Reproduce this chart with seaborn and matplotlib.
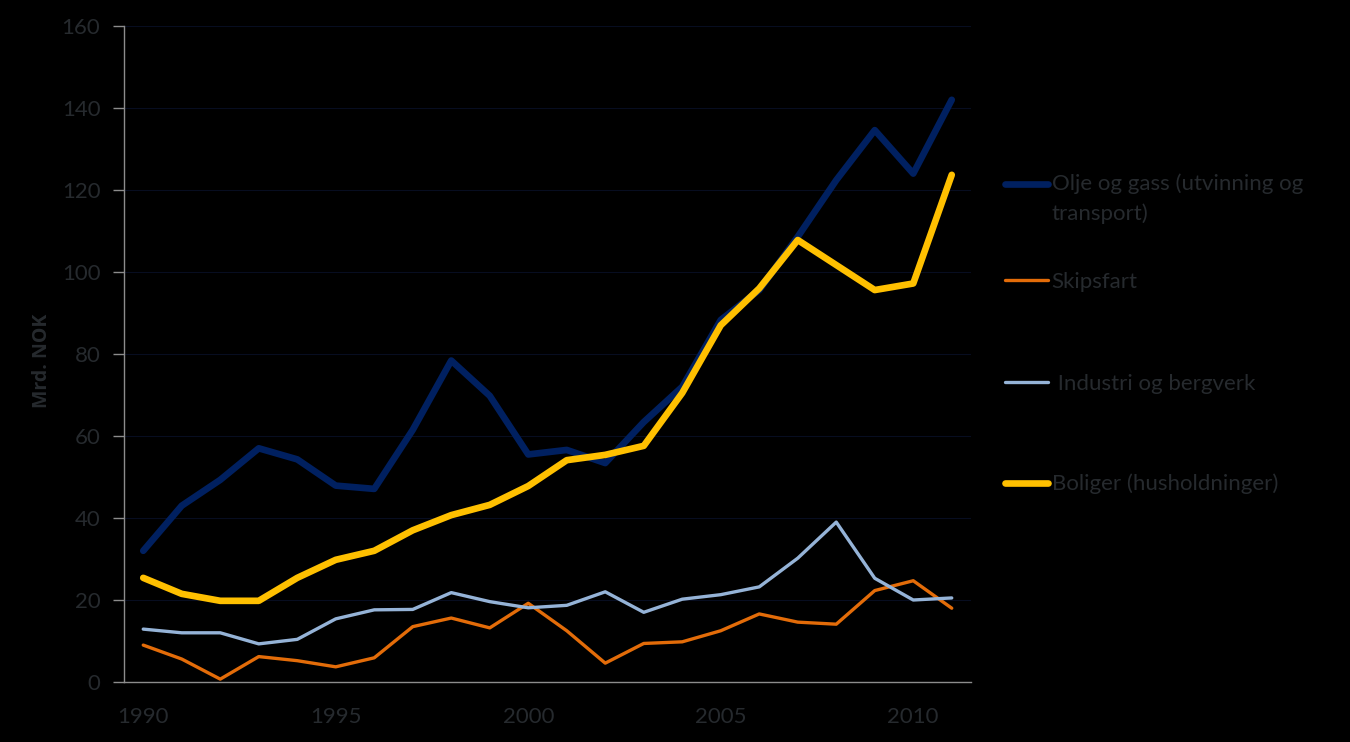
import matplotlib
matplotlib.use("Agg")
import matplotlib.pyplot as plt
import seaborn as sns
import pandas as pd
import numpy as np
from matplotlib.lines import Line2D
from matplotlib.legend_handler import HandlerLine2D

years = list(range(1990, 2012))
olje_gass = [32, 43, 49.3, 57, 54.3, 47.9, 47.1, 61.5, 78.4, 69.8, 55.5, 56.6,
             53.4, 63.4, 72, 88.3, 95.6, 108.6, 122.4, 134.6, 124, 142]
skipsfart = [9, 5.6, 0.7, 6.2, 5.2, 3.7, 5.9, 13.5, 15.6, 13.2, 19.2, 12.5,
             4.6, 9.4, 9.8, 12.5, 16.6, 14.6, 14.1, 22.3, 24.7, 18]
industri = [12.9, 12, 12, 9.3, 10.4, 15.4, 17.6, 17.7, 21.8, 19.6, 18.1, 18.7,
            22, 17, 20.2, 21.3, 23.2, 30.2, 39, 25.3, 20, 20.5]
boliger = [25.4, 21.5, 19.8, 19.8, 25.4, 29.8, 32, 37, 40.7, 43.2, 47.8, 54.1,
           55.4, 57.6, 70.5, 87, 96, 107.8, 101.7, 95.6, 97.2, 123.7]

series_names = ["Olje og gass (utvinning og\ntransport)", "Skipsfart",
                " Industri og bergverk", "Boliger (husholdninger)"]
series_values = [olje_gass, skipsfart, industri, boliger]
colors = ["#002060", "#E36C09", "#95B3D7", "#FFC000"]
widths = [4.8, 2.4, 2.4, 4.8]
yticks = [0, 20, 40, 60, 80, 100, 120, 140, 160]
xtick_labels = ["1990", "1995", "2000", "2005", "2010"]

sns.set_style("dark")
txt_color = "#262a2e"
plt.rcParams["font.family"] = ["Lato", "DejaVu Sans"]
FS = 16


class ShiftedLineHandler(HandlerLine2D):
    def __init__(self, shift=0.0, **kw):
        super().__init__(**kw)
        self.shift = shift

    def create_artists(self, legend, orig_handle, xdescent, ydescent, width,
                       height, fontsize, trans):
        arts = super().create_artists(legend, orig_handle, xdescent, ydescent,
                                      width, height, fontsize, trans)
        for a in arts:
            a.set_ydata(np.asarray(a.get_ydata(), dtype=float) + self.shift)
        return arts


fig = plt.figure(figsize=(13.5, 7.42), dpi=100, facecolor="black")
ax = fig.add_axes([124 / 1350, 1 - 682 / 742, (971 - 124) / 1350, (682 - 26) / 742])
ax.set_facecolor("black")

pos = list(range(len(years)))
for name, vals, c, w in zip(series_names, series_values, colors, widths):
    df = pd.DataFrame({"x": pos, "y": vals})
    sns.lineplot(data=df, x="x", y="y", ax=ax, color=c, linewidth=w,
                 solid_capstyle="round", solid_joinstyle="round", legend=False)

ax.set_xlim(-0.5, len(years) - 0.5)
ax.set_ylim(0, 160)
ax.set_yticks(yticks)
ax.set_yticklabels([str(v) for v in yticks])
ax.set_xticks([p - 0.5 for p in pos] + [len(years) - 0.5], minor=True)
ax.set_xticks([pos[years.index(int(l))] for l in xtick_labels])
ax.set_xticklabels(xtick_labels)
ax.tick_params(axis="x", which="major", length=0, pad=18, labelsize=FS, labelcolor=txt_color)
ax.tick_params(axis="x", which="minor", length=8, width=1, color="#8c8c8c", direction="out")
ax.tick_params(axis="y", length=8, width=1, color="#8c8c8c", direction="out", left=True,
               pad=9, labelsize=FS, labelcolor=txt_color)

ax.grid(False)
ax.yaxis.grid(True, color="#070d20", linewidth=0.8)
ax.xaxis.grid(False)
for s in ["top", "right"]:
    ax.spines[s].set_visible(False)
for s in ["left", "bottom"]:
    ax.spines[s].set_visible(True)
    ax.spines[s].set_color("#8c8c8c")
    ax.spines[s].set_linewidth(1)

ax.set_xlabel("")
ax.set_ylabel("Mrd. NOK", fontsize=14, fontweight="bold", color=txt_color,
              family=["Open Sans", "DejaVu Sans"])
ax.yaxis.set_label_coords(-0.085, 0.49)

legend_y = [199, 282, 384, 484]
for i, (name, c, w) in enumerate(zip(series_names, colors, widths)):
    h = Line2D([0], [0], color=c, linewidth=w, solid_capstyle="round")
    shift = 10.8 if i == 0 else 0.0
    leg = fig.legend([h], [name], loc="center left",
                     bbox_to_anchor=(1005 / 1350, 1 - legend_y[i] / 742),
                     frameon=False, fontsize=FS, handlelength=1.95, handletextpad=0.15,
                     borderaxespad=0, borderpad=0,
                     handler_map={Line2D: ShiftedLineHandler(shift=shift)})
    for t in leg.get_texts():
        t.set_color(txt_color)
        t.set_linespacing(1.55)

fig.savefig("out.png", dpi=100, facecolor="black")
